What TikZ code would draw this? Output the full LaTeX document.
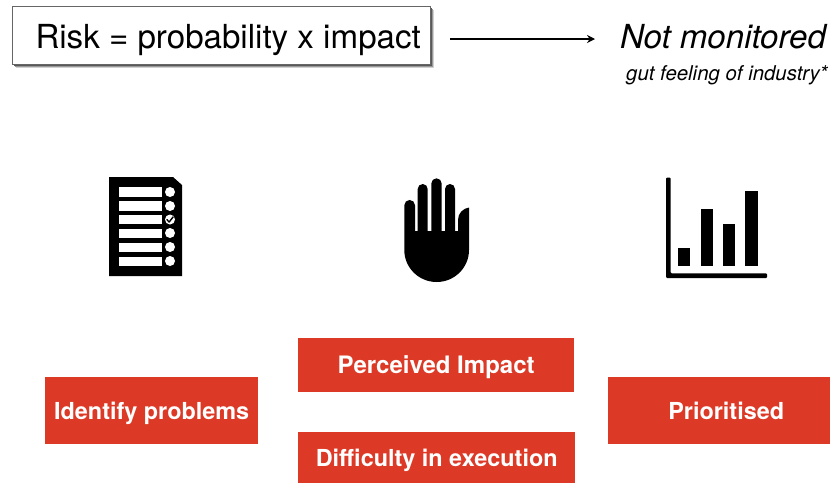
\documentclass[tikz,border=0pt]{standalone}
\usepackage{fontspec}
\setmainfont{TeX Gyre Heros}
\usetikzlibrary{shadows,arrows.meta}
\definecolor{redbox}{HTML}{DC3A26}
\tikzset{
  x=1pt,y=-1pt,
  redlabel/.style={fill=redbox,text=white,font=\fontsize{23.4}{28}\selectfont\bfseries,inner sep=0pt,anchor=north west,align=center,text height=17pt,text depth=0pt},
  riskbox/.style={draw=black!60,line width=.8pt,fill=white,inner sep=0pt,outer sep=0pt,anchor=north west,
    general shadow={shadow xshift=3.5pt,shadow yshift=-3.5pt,fill=black!18},
    general shadow={shadow xshift=2.5pt,shadow yshift=-2.5pt,fill=black!40},
    general shadow={shadow xshift=1.5pt,shadow yshift=-1.5pt,fill=black!65}},
  ink/.style={fill=black,draw=none},
  hole/.style={fill=white,draw=none}
}
\begin{document}
\begin{tikzpicture}
\useasboundingbox (0,0) rectangle (830,483);
% top row
\node[riskbox,minimum width=418pt,minimum height=58pt] (risk) at (12,6) {};
\node[anchor=base west,inner sep=0pt,font=\fontsize{33.1}{36}\selectfont] (risktext) at (35.3,48) {Risk = probability x impact};
\node[anchor=base west,inner sep=0pt,outer sep=0pt,text height=24pt,text depth=0pt,font=\fontsize{33.1}{36}\selectfont\itshape] (nm) at (620,48) {Not monitored};
\node[anchor=base west,inner sep=0pt,font=\fontsize{20.4}{24}\selectfont\itshape] (gut) at (626,80) {gut feeling of industry*};
\draw[-{Stealth[length=8pt,width=8pt]},line width=1.9pt,shorten <=20pt,shorten >=25pt] ([yshift=-4pt]risk.east) -- ([yshift=-3pt]nm.west);
% checklist icon
\fill[ink] (109,177) -- (173,177) -- (182,185) -- (182,276) -- (109,276) -- cycle;
\foreach \t/\b in {187/197,201/211,215/224,229/238,243/252,257/266}
  \fill[hole] (119,\t) rectangle (162,\b);
\foreach \c in {192,206,219.5,233,247,261}
  \fill[hole] (170,\c) circle[radius=5];
\draw[black,line width=1.4pt,line cap=round,line join=round] (166.8,219.5) -- (169.2,222) -- (173.2,216.8);
% hand icon
\fill[ink] (404.3,250) -- (404.3,205.3) arc[start angle=180,end angle=360,radius=5.35] -- (415,231)
  -- (417.7,231) -- (417.7,189) arc[start angle=180,end angle=360,radius=5] -- (427.7,231)
  -- (431.3,231) -- (431.3,183.5) arc[start angle=180,end angle=360,radius=5.2] -- (441.7,231)
  -- (445,231) -- (445,189) arc[start angle=180,end angle=360,radius=5] -- (455,231)
  -- (458,231) -- (458,220) .. controls (458,213) and (463,208.5) .. (469,207.5)
  -- (469,250) arc[start angle=0,end angle=180,x radius=32.35,y radius=32] -- cycle;
% chart icon
\fill[ink,rounded corners=1pt] (666,177.7) -- (670.7,177.7) -- (670.7,273.3) -- (767,273.3) -- (767,278) -- (666,278) -- cycle;
\fill[ink] (678,247.7) rectangle (690.3,266);
\fill[ink] (700.7,209) rectangle (713,266);
\fill[ink] (723,224.3) rectangle (735.3,266);
\fill[ink] (745.3,191) rectangle (757.7,266);
% red labels
\node[redlabel,minimum width=213pt,minimum height=67pt] (identify) at (45,377) {Identify problems};
\node[redlabel,minimum width=276pt,minimum height=54pt,font=\fontsize{24}{28}\selectfont\bfseries] (impact) at (298,338) {Perceived Impact};
\node[redlabel,minimum width=277pt,minimum height=51pt] (difficulty) at (298,432) {Difficulty in execution};
\node[redlabel,minimum width=222pt,minimum height=67pt] (prior) at (608,377) {\hspace*{14pt}Prioritised};
\end{tikzpicture}
\end{document}
